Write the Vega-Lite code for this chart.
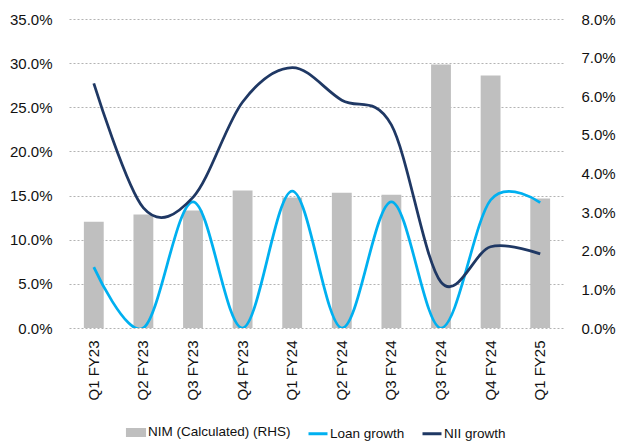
{
  "$schema": "https://vega.github.io/schema/vega-lite/v6.json",
  "width": 496,
  "height": 309,
  "autosize": {"type": "none"},
  "padding": {"left": 69, "top": 19, "right": 54, "bottom": 113},
  "background": "white",
  "config": {
    "view": {"stroke": null},
    "font": "Liberation Sans, Arial, sans-serif",
    "axis": {
      "labelFont": "Liberation Sans, Arial, sans-serif",
      "labelFontSize": 15,
      "labelColor": "#111111",
      "domain": false,
      "ticks": false,
      "title": null
    },
    "legend": {
      "labelFont": "Liberation Sans, Arial, sans-serif",
      "labelFontSize": 13.5,
      "labelColor": "#111111"
    }
  },
  "datasets": {
    "rows": [
      {"seq": 1, "quarter": "Q1 FY23", "NIM (Calculated) (RHS)": 0.0275, "Loan growth": 0.069, "NII growth": 0.277},
      {"seq": 2, "quarter": "Q2 FY23", "NIM (Calculated) (RHS)": 0.0294, "Loan growth": 0.0, "NII growth": 0.136},
      {"seq": 3, "quarter": "Q3 FY23", "NIM (Calculated) (RHS)": 0.0304, "Loan growth": 0.143, "NII growth": 0.148},
      {"seq": 4, "quarter": "Q4 FY23", "NIM (Calculated) (RHS)": 0.0356, "Loan growth": 0.0, "NII growth": 0.256},
      {"seq": 5, "quarter": "Q1 FY24", "NIM (Calculated) (RHS)": 0.0338, "Loan growth": 0.155, "NII growth": 0.295},
      {"seq": 6, "quarter": "Q2 FY24", "NIM (Calculated) (RHS)": 0.035, "Loan growth": 0.0, "NII growth": 0.258},
      {"seq": 7, "quarter": "Q3 FY24", "NIM (Calculated) (RHS)": 0.0345, "Loan growth": 0.143, "NII growth": 0.23},
      {"seq": 8, "quarter": "Q3 FY24", "NIM (Calculated) (RHS)": 0.0682, "Loan growth": 0.0, "NII growth": 0.052},
      {"seq": 9, "quarter": "Q4 FY24", "NIM (Calculated) (RHS)": 0.0654, "Loan growth": 0.145, "NII growth": 0.092},
      {"seq": 10, "quarter": "Q1 FY25", "NIM (Calculated) (RHS)": 0.0335, "Loan growth": 0.142, "NII growth": 0.084}
    ]
  },
  "data": {"name": "rows"},
  "transform": [
    {"fold": ["NIM (Calculated) (RHS)", "Loan growth", "NII growth"], "as": ["series", "value"]}
  ],
  "encoding": {
    "x": {
      "field": "seq",
      "type": "ordinal",
      "scale": {"paddingInner": 0, "paddingOuter": 0},
      "axis": {
        "labelAngle": -90,
        "labelAlign": "right",
        "labelBaseline": "middle",
        "labelPadding": 12,
        "labelExpr": "data('rows')[datum.value - 1].quarter"
      }
    },
    "color": {
      "field": "series",
      "type": "nominal",
      "scale": {
        "domain": ["NIM (Calculated) (RHS)", "Loan growth", "NII growth"],
        "range": ["#bfbfbf", "#00b0f0", "#1f3864"]
      },
      "legend": {
        "title": null,
        "orient": "none",
        "legendX": 56,
        "legendY": 402,
        "direction": "horizontal",
        "columnPadding": 11,
        "labelOffset": 1,
        "symbolSize": 361,
        "encode": {
          "symbols": {
            "update": {
              "shape": {"signal": "datum.value === 'NIM (Calculated) (RHS)' ? 'M-0.9,-0.32H0.9V0.32H-0.9Z' : 'M-1,0H1'"},
              "fill": {"signal": "datum.value === 'NIM (Calculated) (RHS)' ? '#bfbfbf' : 'transparent'"},
              "stroke": {"signal": "datum.value === 'NIM (Calculated) (RHS)' ? 'transparent' : (datum.value === 'Loan growth' ? '#00b0f0' : '#1f3864')"},
              "strokeWidth": {"value": 3},
              "opacity": {"value": 1}
            }
          }
        }
      }
    }
  },
  "layer": [
    {
      "transform": [{"filter": "datum.series === 'NIM (Calculated) (RHS)'"}],
      "mark": {"type": "bar", "width": {"band": 0.4}},
      "encoding": {
        "y": {
          "field": "value",
          "type": "quantitative",
          "scale": {"domain": [0, 0.08], "nice": false},
          "axis": {
            "orient": "right",
            "grid": false,
            "format": ".1%",
            "values": [0, 0.01, 0.02, 0.03, 0.04, 0.05, 0.06, 0.07, 0.08],
            "labelPadding": 16
          }
        }
      }
    },
    {
      "transform": [{"filter": "datum.series !== 'NIM (Calculated) (RHS)'"}],
      "mark": {"type": "line", "interpolate": "cardinal", "strokeWidth": 2.75, "clip": true},
      "encoding": {
        "y": {
          "field": "value",
          "type": "quantitative",
          "scale": {"domain": [0, 0.35], "nice": false},
          "axis": {
            "orient": "left",
            "grid": true,
            "gridColor": "#b3b3b3",
            "gridDash": [2, 2],
            "gridWidth": 1,
            "format": ".1%",
            "values": [0, 0.05, 0.1, 0.15, 0.2, 0.25, 0.3, 0.35],
            "labelPadding": 17
          }
        }
      }
    }
  ],
  "resolve": {"scale": {"y": "independent"}}
}
